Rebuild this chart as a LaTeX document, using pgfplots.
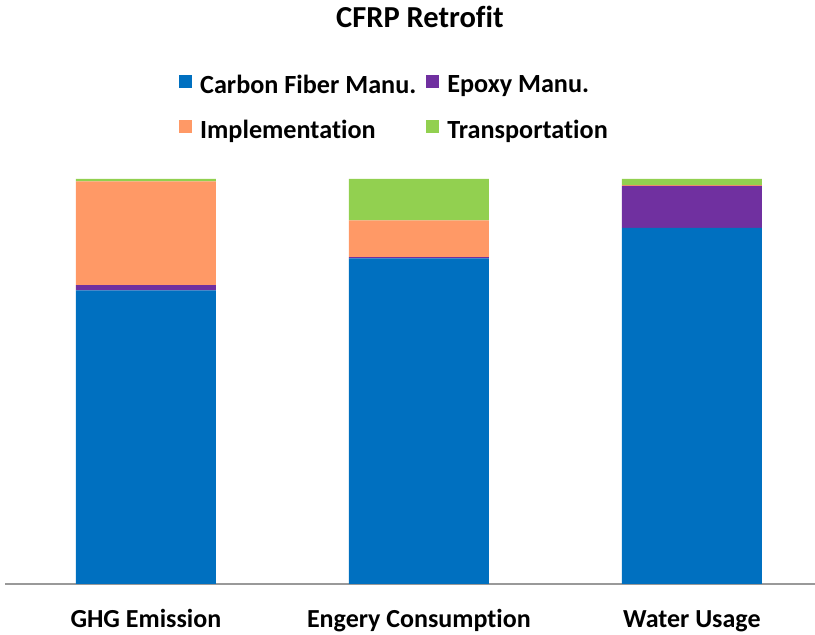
\documentclass[border=0pt]{standalone}
\usepackage{pgfplots}
\pgfplotsset{compat=1.18}
\usepackage{fontspec}
\setmainfont{Carlito}[RawFeature={-liga;-clig}]
\definecolor{cfblue}{HTML}{0070C0}
\definecolor{eppurple}{HTML}{7030A0}
\definecolor{imorange}{HTML}{FF9966}
\definecolor{trgreen}{HTML}{92D050}
\begin{document}
\begin{tikzpicture}[x=1bp,y=1bp]
\useasboundingbox (0,0) rectangle (815,635);
\begin{axis}[
  at={(5bp,51bp)}, anchor=south west,
  scale only axis, width=810bp, height=405bp,
  xmin=-0.516, xmax=2.451, ymin=0, ymax=100,
  ybar stacked, bar width=0.513,
  axis x line*=bottom, axis y line=none,
  x axis line style={-, draw=gray!80, line width=1.5bp},
  xtick={0,1,2},
  xticklabels={GHG Emission, Engery Consumption, Water Usage},
  major tick length=0pt,
  x tick label style={anchor=base, yshift=-44bp, font=\fontsize{26bp}{30bp}\selectfont\bfseries},
  title={CFRP Retrofit},
  title style={at={(axis description cs:0.5123,1.36)}, anchor=base, font=\fontsize{30.5bp}{34bp}\selectfont\bfseries},
  legend columns=2,
  legend style={at={(axis description cs:0.2148,1.263)}, anchor=north west, draw=none, fill=none,
    font=\fontsize{26.2bp}{30bp}\selectfont\bfseries, inner sep=0pt,
    /tikz/column 1/.style={column sep=6bp},
    /tikz/column 2/.style={column sep=8bp},
    /tikz/column 3/.style={column sep=6bp},
    row sep=22bp,
    nodes={inner sep=2bp}},
  legend cell align=left,
  legend image code/.code={\fill[#1] (0bp,-3bp) rectangle (13bp,10bp);},
]
\addplot[fill=cfblue, draw=none] coordinates {(0,72.5) (1,80.4) (2,87.9)};
\addplot[fill=eppurple, draw=none] coordinates {(0,1.3) (1,0.3) (2,10.4)};
\addplot[fill=imorange, draw=none] coordinates {(0,25.6) (1,9.1) (2,0.2)};
\addplot[fill=trgreen, draw=none] coordinates {(0,0.6) (1,10.2) (2,1.5)};
\legend{Carbon Fiber Manu., Epoxy Manu., Implementation, Transportation}
\end{axis}
\end{tikzpicture}
\end{document}
